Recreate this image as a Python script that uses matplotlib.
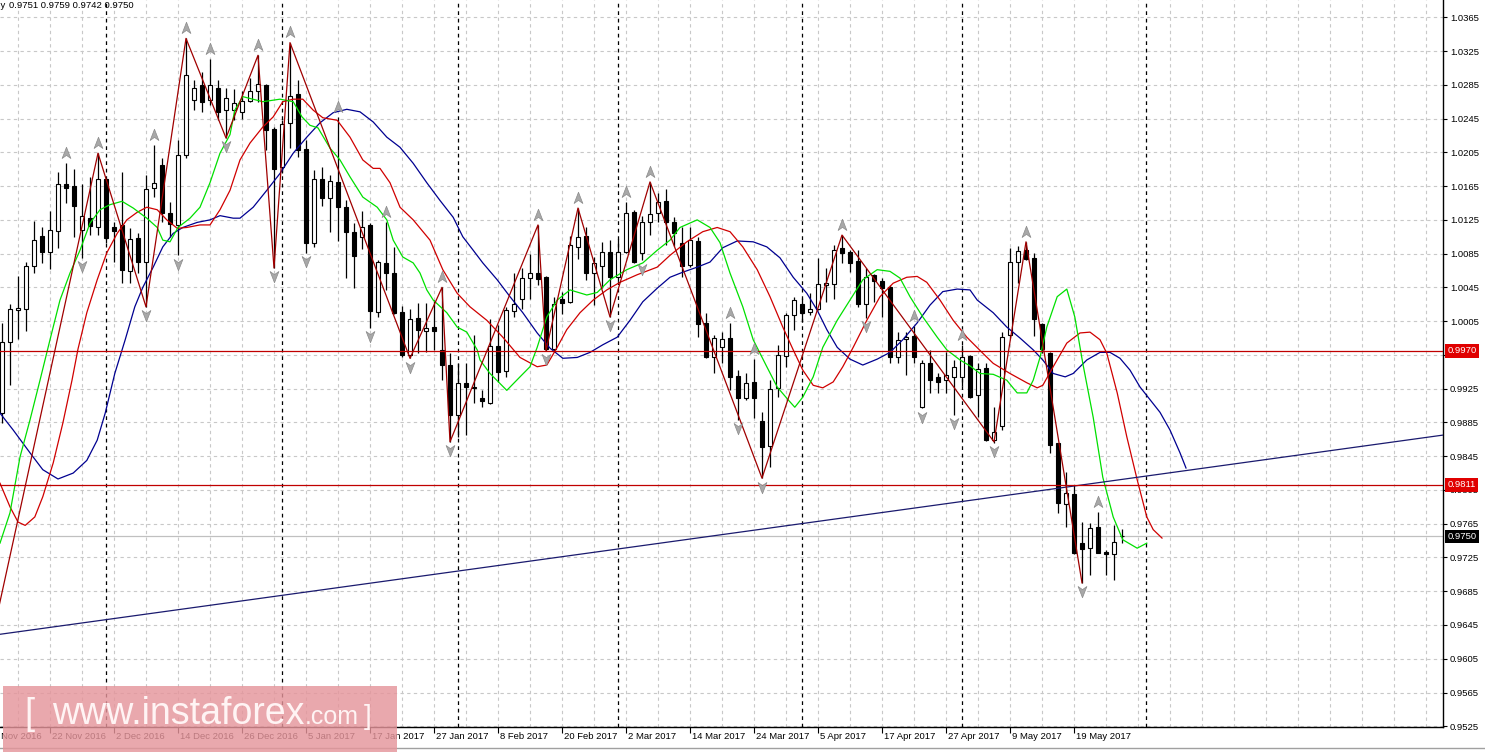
import matplotlib
matplotlib.use('Agg')
import matplotlib.pyplot as plt
import matplotlib.patches as patches
import matplotlib.transforms as mtransforms
from matplotlib.path import Path
from matplotlib.lines import Line2D
import pandas as pd

plt.rcParams['font.family'] = ['Liberation Sans', 'DejaVu Sans']

# Velas diarias USDCHF, barra 0 = 14 Nov 2016 (dias habiles)
opens = [0.9896, 0.9980, 1.0018, 1.0019, 1.0070, 1.0106, 1.0087, 1.0112, 1.0167, 1.0165,
         1.0113, 1.0127, 1.0116, 1.0173, 1.0116, 1.0119, 1.0064, 1.0103, 1.0075, 1.0163,
         1.0190, 1.0133, 1.0119, 1.0202, 1.0267, 1.0285, 1.0267, 1.0281, 1.0255, 1.0255,
         1.0253, 1.0266, 1.0278, 1.0285, 1.0233, 1.0188, 1.0240, 1.0274, 1.0209, 1.0098,
         1.0173, 1.0151, 1.0170, 1.0140, 1.0111, 1.0105, 1.0119, 1.0016, 1.0074, 1.0062,
         1.0016, 0.9965, 1.0009, 0.9993, 0.9998, 0.9971, 0.9953, 0.9894, 0.9932, 0.9927,
         0.9914, 0.9908, 0.9976, 0.9946, 1.0017, 1.0031, 1.0056, 1.0062, 1.0057, 0.9972,
         1.0031, 1.0028, 1.0093, 1.0106, 1.0062, 1.0070, 1.0087, 1.0057, 1.0087, 1.0134,
         1.0086, 1.0122, 1.0133, 1.0147, 1.0122, 1.0098, 1.0072, 1.0100, 1.0003, 0.9962,
         0.9974, 0.9985, 0.9940, 0.9914, 0.9933, 0.9887, 0.9857, 0.9926, 0.9964, 1.0012,
         1.0025, 1.0016, 1.0019, 1.0048, 1.0049, 1.0092, 1.0087, 1.0076, 1.0025, 1.0060,
         1.0053, 1.0045, 0.9962, 0.9984, 0.9987, 0.9903, 0.9956, 0.9939, 0.9935, 0.9939,
         0.9939, 0.9964, 0.9917, 0.9949, 0.9864, 0.9881, 0.9989, 1.0075, 1.0089, 1.0080,
         1.0002, 0.9967, 0.9861, 0.9788, 0.9800, 0.9742, 0.9736, 0.9761, 0.9731, 0.9729,
         0.9751]
highs = [1.0003, 1.0025, 1.0058, 1.0075, 1.0124, 1.0116, 1.0135, 1.0182, 1.0192, 1.0185,
         1.0167, 1.0176, 1.0204, 1.0175, 1.0122, 1.0182, 1.0115, 1.0109, 1.0178, 1.0214,
         1.0198, 1.0146, 1.0220, 1.0340, 1.0291, 1.0300, 1.0316, 1.0291, 1.0281, 1.0280,
         1.0278, 1.0293, 1.0320, 1.0286, 1.0235, 1.0243, 1.0335, 1.0291, 1.0220, 1.0184,
         1.0188, 1.0178, 1.0247, 1.0149, 1.0121, 1.0135, 1.0121, 1.0077, 1.0122, 1.0093,
         1.0023, 1.0019, 1.0026, 1.0026, 1.0030, 1.0045, 0.9967, 0.9956, 0.9956, 0.9989,
         0.9923, 1.0008, 1.0000, 1.0022, 1.0062, 1.0068, 1.0085, 1.0119, 1.0058, 1.0034,
         1.0039, 1.0106, 1.0139, 1.0116, 1.0081, 1.0099, 1.0101, 1.0102, 1.0146, 1.0137,
         1.0130, 1.0170, 1.0157, 1.0161, 1.0128, 1.0116, 1.0116, 1.0105, 1.0015, 0.9989,
         0.9992, 1.0003, 0.9947, 0.9943, 0.9960, 0.9897, 0.9935, 0.9977, 1.0015, 1.0034,
         1.0033, 1.0038, 1.0080, 1.0068, 1.0095, 1.0107, 1.0089, 1.0089, 1.0068, 1.0061,
         1.0056, 1.0048, 0.9992, 0.9992, 0.9999, 0.9959, 0.9971, 0.9943, 0.9968, 0.9959,
         0.9977, 0.9965, 0.9955, 0.9956, 0.9903, 0.9992, 1.0092, 1.0094, 1.0099, 1.0086,
         1.0003, 0.9968, 0.9861, 0.9826, 0.9811, 0.9767, 0.9766, 0.9779, 0.9734, 0.9764,
         0.9759]
lows = [0.9884, 0.9929, 0.9984, 0.9993, 1.0062, 1.0074, 1.0067, 1.0092, 1.0145, 1.0105,
        1.0080, 1.0107, 1.0107, 1.0098, 1.0075, 1.0050, 1.0050, 1.0062, 1.0022, 1.0152,
        1.0122, 1.0105, 1.0083, 1.0198, 1.0255, 1.0253, 1.0261, 1.0243, 1.0222, 1.0243,
        1.0244, 1.0265, 1.0265, 1.0208, 1.0068, 1.0181, 1.0210, 1.0200, 1.0086, 1.0093,
        1.0141, 1.0111, 1.0100, 1.0056, 1.0044, 1.0091, 0.9997, 1.0010, 1.0042, 1.0013,
        0.9962, 0.9961, 0.9967, 0.9968, 0.9971, 0.9935, 0.9862, 0.9868, 0.9870, 0.9908,
        0.9903, 0.9907, 0.9933, 0.9939, 1.0010, 1.0019, 1.0031, 1.0048, 0.9970, 0.9969,
        1.0014, 1.0026, 1.0079, 1.0054, 1.0024, 1.0044, 1.0010, 1.0053, 1.0086, 1.0074,
        1.0077, 1.0107, 1.0122, 1.0095, 1.0094, 1.0057, 1.0069, 0.9986, 0.9961, 0.9943,
        0.9956, 0.9923, 0.9888, 0.9912, 0.9890, 0.9819, 0.9832, 0.9915, 0.9951, 0.9995,
        1.0004, 1.0012, 1.0018, 1.0028, 1.0031, 1.0074, 1.0063, 1.0022, 1.0009, 1.0028,
        1.0010, 0.9956, 0.9956, 0.9941, 0.9955, 0.9902, 0.9920, 0.9920, 0.9920, 0.9894,
        0.9928, 0.9914, 0.9891, 0.9863, 0.9861, 0.9876, 0.9985, 1.0050, 1.0077, 0.9987,
        0.9967, 0.9849, 0.9778, 0.9761, 0.9729, 0.9695, 0.9704, 0.9730, 0.9704, 0.9698,
        0.9742]
closes = [0.9980, 1.0019, 1.0021, 1.0070, 1.0101, 1.0087, 1.0113, 1.0167, 1.0163, 1.0141,
          1.0130, 1.0118, 1.0173, 1.0103, 1.0112, 1.0066, 1.0102, 1.0075, 1.0161, 1.0169,
          1.0133, 1.0120, 1.0202, 1.0297, 1.0281, 1.0265, 1.0285, 1.0253, 1.0269, 1.0263,
          1.0266, 1.0278, 1.0286, 1.0231, 1.0185, 1.0239, 1.0272, 1.0208, 1.0098, 1.0173,
          1.0151, 1.0171, 1.0140, 1.0111, 1.0082, 1.0116, 1.0017, 1.0075, 1.0062, 1.0015,
          0.9965, 1.0008, 0.9995, 0.9997, 0.9993, 0.9953, 0.9894, 0.9932, 0.9927, 0.9926,
          0.9910, 0.9976, 0.9945, 1.0018, 1.0025, 1.0056, 1.0062, 1.0055, 0.9972, 1.0025,
          1.0026, 1.0095, 1.0105, 1.0062, 1.0074, 1.0087, 1.0057, 1.0087, 1.0133, 1.0075,
          1.0122, 1.0132, 1.0146, 1.0122, 1.0109, 1.0070, 1.0101, 1.0002, 0.9962, 0.9985,
          0.9984, 0.9939, 0.9914, 0.9932, 0.9914, 0.9856, 0.9925, 0.9965, 1.0012, 1.0030,
          1.0015, 1.0019, 1.0049, 1.0050, 1.0089, 1.0086, 1.0074, 1.0025, 1.0057, 1.0053,
          1.0044, 0.9962, 0.9983, 0.9986, 0.9962, 0.9956, 0.9935, 0.9933, 0.9941, 0.9951,
          0.9962, 0.9915, 0.9948, 0.9864, 0.9874, 0.9986, 1.0075, 1.0088, 1.0079, 1.0008,
          0.9972, 0.9858, 0.9790, 0.9801, 0.9730, 0.9735, 0.9760, 0.9730, 0.9729, 0.9743,
          0.9750]

# Alligator: labios verde, dientes rojo, mandibula azul
lips_bar = [-0.25, 1.0, 2.25, 3.5, 4.75, 6.0, 7.25, 8.5, 9.75, 11.0, 12.25, 13.5, 15.0, 16.4,
            18.1, 19.4, 20.1, 21.0, 22.0, 23.5, 24.75, 26.0, 27.25, 28.5, 29.1, 30.1, 32.6,
            34.75, 36.4, 37.5, 38.5, 39.5, 41.0, 42.25, 43.5, 45.1, 46.9, 48.1, 48.9, 50.1,
            51.4, 52.25, 53.1, 53.9, 55.6, 56.9, 58.1, 59.4, 59.75, 61.0, 63.1, 64.75, 66.0,
            66.9, 68.1, 69.4, 71.0, 73.1, 74.4, 76.0, 78.1, 80.1, 81.9, 83.5, 84.75, 86.9,
            88.5, 89.75, 91.0, 92.6, 93.9, 95.6, 96.9, 98.25, 99.1, 100.1, 101.4, 102.6,
            104.4, 106.0, 107.6, 109.4, 111.0, 112.25, 113.5, 115.1, 116.9, 118.1, 119.75,
            121.0, 122.25, 123.9, 125.6, 126.9, 128.1, 128.9, 129.75, 130.6, 131.9, 133.1,
            134.1, 135.1, 136.4, 137.6, 138.9, 140.1, 141.9, 143.1]
lips = [0.9742, 0.9778, 0.9844, 0.9888, 0.9935, 0.9983, 1.0030, 1.0062, 1.0089, 1.0121,
        1.0137, 1.0143, 1.0147, 1.0139, 1.0127, 1.0116, 1.0101, 1.0099, 1.0116, 1.0127,
        1.0140, 1.0169, 1.0204, 1.0226, 1.0255, 1.0271, 1.0265, 1.0268, 1.0265, 1.0247,
        1.0237, 1.0234, 1.0210, 1.0196, 1.0176, 1.0152, 1.0140, 1.0125, 1.0101, 1.0081,
        1.0074, 1.0062, 1.0042, 1.0030, 1.0015, 0.9998, 0.9992, 0.9971, 0.9959, 0.9943,
        0.9923, 0.9939, 0.9951, 0.9974, 1.0010, 1.0030, 1.0042, 1.0036, 1.0039, 1.0054,
        1.0066, 1.0074, 1.0089, 1.0101, 1.0116, 1.0125, 1.0116, 1.0098, 1.0062, 1.0022,
        0.9983, 0.9951, 0.9927, 0.9912, 0.9903, 0.9915, 0.9939, 0.9974, 1.0006, 1.0030,
        1.0054, 1.0066, 1.0064, 1.0056, 1.0034, 1.0010, 0.9986, 0.9971, 0.9959, 0.9952,
        0.9943, 0.9942, 0.9935, 0.9920, 0.9920, 0.9935, 0.9962, 0.9998, 1.0034, 1.0043,
        1.0010, 0.9955, 0.9891, 0.9820, 0.9773, 0.9746, 0.9736, 0.9742]

teeth_bar = [-0.25, 1.0, 2.0, 2.9, 4.1, 5.1, 6.4, 7.6, 8.75, 9.5, 10.6, 11.9, 13.1, 14.4, 15.6,
             16.9, 18.1, 19.4, 20.6, 21.9, 23.1, 24.75, 26.0, 27.25, 28.5, 29.75, 31.0, 32.6,
             33.9, 35.1, 36.4, 37.6, 38.9, 40.1, 41.9, 43.5, 45.1, 46.4, 47.25, 48.5, 49.75,
             51.4, 53.5, 55.1, 56.9, 58.5, 60.6, 62.6, 64.75, 66.9, 68.1, 69.4, 70.6, 72.25,
             73.9, 75.6, 77.25, 79.4, 81.9, 83.5, 85.6, 87.6, 89.4, 91.0, 92.6, 94.4, 96.0,
             97.6, 98.9, 100.1, 101.4, 102.6, 103.9, 105.1, 106.4, 108.1, 109.75, 111.4,
             113.1, 114.4, 115.6, 117.25, 118.9, 120.6, 122.6, 123.9, 126.0, 128.1, 129.4,
             130.1, 131.4, 133.1, 134.75, 136.0, 137.25, 138.1, 139.4, 140.6, 141.9, 143.1,
             143.9, 145.0]
teeth = [0.9813, 0.9785, 0.9767, 0.9763, 0.9773, 0.9797, 0.9837, 0.9884, 0.9935, 0.9972,
         1.0015, 1.0054, 1.0086, 1.0109, 1.0125, 1.0134, 1.0140, 1.0137, 1.0125, 1.0115,
         1.0116, 1.0119, 1.0119, 1.0137, 1.0160, 1.0196, 1.0216, 1.0235, 1.0247, 1.0265,
         1.0268, 1.0268, 1.0255, 1.0246, 1.0243, 1.0223, 1.0196, 1.0186, 1.0186, 1.0169,
         1.0140, 1.0125, 1.0101, 1.0066, 1.0038, 1.0022, 1.0006, 0.9986, 0.9962, 0.9951,
         0.9953, 0.9974, 0.9995, 1.0015, 1.0030, 1.0042, 1.0051, 1.0060, 1.0069, 1.0083,
         1.0099, 1.0111, 1.0116, 1.0111, 1.0093, 1.0066, 1.0034, 0.9998, 0.9971, 0.9947,
         0.9929, 0.9926, 0.9933, 0.9951, 0.9974, 1.0006, 1.0034, 1.0050, 1.0057, 1.0058,
         1.0051, 1.0030, 1.0006, 0.9986, 0.9967, 0.9955, 0.9943, 0.9932, 0.9926, 0.9929,
         0.9951, 0.9979, 0.9991, 0.9992, 0.9983, 0.9967, 0.9920, 0.9868, 0.9817, 0.9773,
         0.9758, 0.9748]

jaw_bar = [-0.25, 1.4, 3.5, 5.1, 7.0, 8.9, 10.6, 11.9, 12.9, 14.1, 15.4, 16.6, 17.6, 18.9,
           20.1, 21.4, 22.6, 24.4, 26.0, 27.25, 28.9, 29.75, 31.4, 33.1, 34.75, 36.4, 38.1,
           39.75, 41.4, 43.1, 44.75, 46.4, 48.1, 49.75, 51.4, 53.1, 54.75, 56.4, 57.6, 58.9,
           60.1, 61.9, 63.5, 65.1, 66.9, 68.5, 70.1, 71.9, 73.5, 75.1, 76.9, 78.5, 80.1,
           81.9, 83.5, 85.1, 86.9, 88.5, 90.1, 91.9, 93.9, 95.6, 97.25, 98.9, 100.6, 101.9,
           103.1, 104.4, 106.0, 107.6, 109.4, 111.0, 112.6, 114.4, 116.0, 117.6, 119.4,
           121.0, 121.9, 123.9, 125.6, 127.25, 128.9, 130.1, 131.4, 132.9, 133.9, 135.6,
           137.25, 138.5, 139.75, 141.0, 142.25, 143.5, 144.75, 146.0, 147.25, 148.0]
jaw = [0.9896, 0.9876, 0.9849, 0.9829, 0.9818, 0.9825, 0.9840, 0.9864, 0.9896, 0.9943,
       0.9983, 1.0022, 1.0045, 1.0069, 1.0093, 1.0109, 1.0116, 1.0122, 1.0125, 1.0130,
       1.0127, 1.0127, 1.0140, 1.0160, 1.0180, 1.0204, 1.0223, 1.0240, 1.0252, 1.0256,
       1.0253, 1.0241, 1.0223, 1.0211, 1.0192, 1.0169, 1.0148, 1.0128, 1.0105, 1.0089,
       1.0074, 1.0054, 1.0034, 1.0015, 0.9991, 0.9973, 0.9961, 0.9962, 0.9968, 0.9977,
       0.9986, 1.0006, 1.0028, 1.0044, 1.0057, 1.0063, 1.0069, 1.0075, 1.0092, 1.0100,
       1.0099, 1.0093, 1.0080, 1.0057, 1.0038, 1.0018, 0.9995, 0.9974, 0.9960, 0.9953,
       0.9960, 0.9968, 0.9983, 1.0003, 1.0024, 1.0040, 1.0043, 1.0042, 1.0030, 1.0015,
       0.9998, 0.9985, 0.9971, 0.9959, 0.9943, 0.9939, 0.9943, 0.9959, 0.9968, 0.9968,
       0.9961, 0.9947, 0.9927, 0.9912, 0.9897, 0.9876, 0.9849, 0.9831]

# ZigZag (vertices)
zz_bar = [-1, 12, 18, 23, 28, 32, 34, 36, 51, 55, 56, 67, 68, 72, 76, 81, 95, 105, 124, 128, 135]
zz_price = [0.9640, 1.0204, 1.0022, 1.0340, 1.0222, 1.0320, 1.0068, 1.0335, 0.9961, 1.0045,
            0.9862, 1.0119, 0.9970, 1.0139, 1.0010, 1.0170, 0.9819, 1.0107, 0.9862, 1.0099,
            0.9695]

# Fractales
frac_up = [8, 12, 19, 23, 26, 32, 36, 42, 48, 55, 67, 72, 78, 81, 91, 94, 105, 114, 120, 128, 137]
frac_dn = [10, 18, 22, 28, 34, 38, 46, 51, 56, 68, 76, 80, 92, 95, 108, 115, 119, 124, 135]

# Niveles y linea de tendencia
niveles = [0.9970, 0.9811]
precio_actual = 0.9750
trend_bar = [-0.25, 180.125]
trend_price = [0.9634, 0.9870]

# Eje de precios y fechas
y_ticks = [round(0.9525 + 0.004 * k, 4) for k in range(22)]
fechas = pd.bdate_range('2016-11-10', periods=150)  # barra -2 = 10 Nov 2016
x_label_bars = list(range(-2, 135, 8))
separadores = [13, 35, 57, 77, 100, 120, 143]

n = len(closes)

fig = plt.figure(figsize=(14.85, 7.55), dpi=100)
ax = fig.add_axes([0, 28 / 755, 1443 / 1485, 727 / 755])
ax.set_xlim(-0.25, 180.125)
ax.set_ylim(0.952415, 1.03855)

# Rejilla
for b in range(2, 181, 4):
    ax.axvline(b, color='#C8C8C8', lw=0.8, dashes=(3, 3), zorder=0)
for v in y_ticks:
    ax.axhline(v, color='#C8C8C8', lw=0.8, dashes=(3, 3), zorder=0)
for b in separadores:
    ax.axvline(b, color='black', lw=0.9, dashes=(3, 3), zorder=1)

# Velas
w = 0.62
for i in range(n):
    o, h, l, c = opens[i], highs[i], lows[i], closes[i]
    ax.plot([i, i], [l, h], color='black', lw=0.9, zorder=3, solid_capstyle='butt')
    if abs(c - o) < 0.00005:
        ax.plot([i - w / 2, i + w / 2], [c, c], color='black', lw=1.0, zorder=3)
    else:
        fc = 'white' if c > o else 'black'
        ax.add_patch(patches.Rectangle((i - w / 2, min(o, c)), w, abs(c - o),
                                       facecolor=fc, edgecolor='black', lw=0.8, zorder=3))

# Indicadores
ax.plot(jaw_bar, jaw, color='#000090', lw=0.9, zorder=4)
ax.plot(teeth_bar, teeth, color='#D00000', lw=0.9, zorder=4)
ax.plot(lips_bar, lips, color='#00E000', lw=0.9, zorder=4)
ax.plot(zz_bar, zz_price, color='#A00000', lw=0.9, zorder=5)
ax.plot(trend_bar, trend_price, color='#1A1A6E', lw=0.9, zorder=4)

for v in niveles:
    ax.axhline(v, color='#C00000', lw=0.9, zorder=4)
ax.axhline(precio_actual, color='#C0C0C0', lw=0.9, zorder=2)

# Flechas de fractales
up_path = Path([(0, 1), (0.7, -0.8), (0, -0.3), (-0.7, -0.8), (0, 1)],
               [Path.MOVETO, Path.LINETO, Path.LINETO, Path.LINETO, Path.CLOSEPOLY])
dn_path = Path([(0, -1), (0.7, 0.8), (0, 0.3), (-0.7, 0.8), (0, -1)],
               [Path.MOVETO, Path.LINETO, Path.LINETO, Path.LINETO, Path.CLOSEPOLY])
ax.plot(frac_up, [highs[i] + 0.0012 for i in frac_up], ls='none', marker=up_path,
        ms=9, mfc='#A8A8A8', mec='#8A8A8A', mew=0.5, zorder=6)
ax.plot(frac_dn, [lows[i] - 0.0010 for i in frac_dn], ls='none', marker=dn_path,
        ms=9, mfc='#A8A8A8', mec='#8A8A8A', mew=0.5, zorder=6)

# Ejes
for s in ['top', 'left']:
    ax.spines[s].set_visible(False)
for s in ['right', 'bottom']:
    ax.spines[s].set_color('black')
    ax.spines[s].set_linewidth(1.0)

ax.yaxis.tick_right()
ax.set_yticks(y_ticks)
ax.set_yticklabels([f'{v:.4f}' for v in y_ticks])
ax.tick_params(axis='y', direction='out', length=3, width=0.8, pad=2, labelsize=6.8)

ax.set_xticks([b for b in x_label_bars if b >= 0])
ax.set_xticklabels([])
ax.tick_params(axis='x', direction='out', length=4, width=0.8)
trans_x = mtransforms.blended_transform_factory(ax.transData, ax.transAxes)
for b in x_label_bars:
    d = fechas[b + 2]
    ax.text(b + 0.2, -0.007, f'{d.day} {d.strftime("%b %Y")}', transform=trans_x,
            ha='left', va='top', fontsize=6.8, clip_on=False)

# Etiquetas de niveles en el eje
trans_y = mtransforms.blended_transform_factory(ax.transAxes, ax.transData)
for v in niveles:
    ax.text(1.003, v, f'{v:.4f}', transform=trans_y, ha='left', va='center', fontsize=6.8,
            color='white', clip_on=False, zorder=10,
            bbox=dict(boxstyle='square,pad=0.25', facecolor='#E00000', edgecolor='none'))
ax.text(1.003, precio_actual, f'{precio_actual:.4f}', transform=trans_y, ha='left',
        va='center', fontsize=6.8, color='white', clip_on=False, zorder=10,
        bbox=dict(boxstyle='square,pad=0.25', facecolor='black', edgecolor='none'))

# Cabecera
fig.text(5 / 1485, 1 - 6 / 755, 'USDCHF,Daily', ha='right', va='center', fontsize=6.8)
fig.text(9 / 1485, 1 - 6 / 755, '0.9751 0.9759 0.9742 0.9750', ha='left', va='center',
         fontsize=6.8)

fig.add_artist(Line2D([0, 1], [7 / 755, 7 / 755], transform=fig.transFigure,
                      color='#A0A0A0', lw=1))

# Marca de agua
fig.add_artist(patches.Rectangle((3 / 1485, 3 / 755), 394 / 1485, 66 / 755,
                                 transform=fig.transFigure, facecolor='#E5959B',
                                 edgecolor='none', alpha=0.82, zorder=20))
yb = 1 - 724 / 755
fig.text(24 / 1485, yb, '[', fontsize=26, color='#FFF4F4', va='baseline', zorder=21)
fig.text(52 / 1485, yb, 'www.instaforex', fontsize=27, color='#FFF4F4', va='baseline', zorder=21)
fig.text(305 / 1485, yb, '.com', fontsize=18, color='#FFF4F4', va='baseline', zorder=21)
fig.text(364 / 1485, yb, ']', fontsize=20, color='#FFF4F4', va='baseline', zorder=21)

fig.savefig('out.png', dpi=100)
